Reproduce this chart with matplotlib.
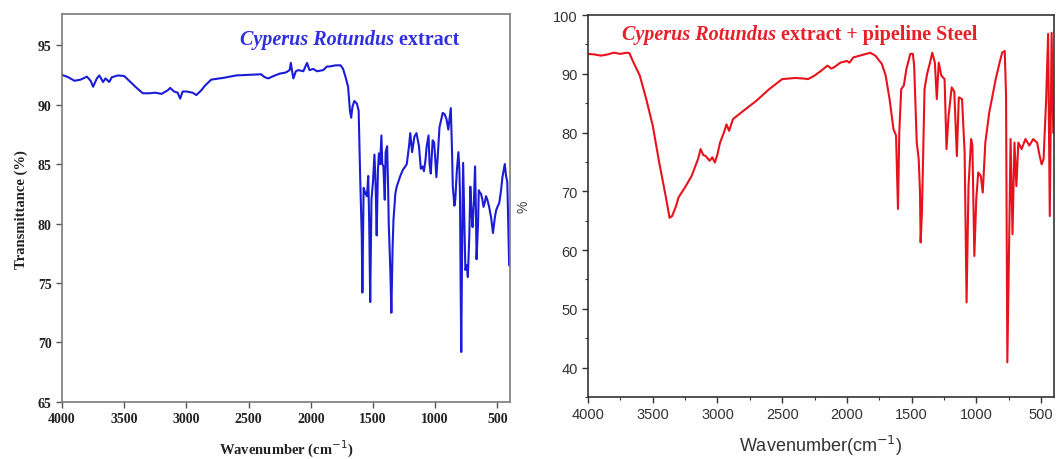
import numpy as np
import matplotlib
matplotlib.use('Agg')
import matplotlib.pyplot as plt
from matplotlib.ticker import MultipleLocator

# left panel: Cyperus Rotundus extract
w_left = [4000, 3950, 3900, 3850, 3800, 3770, 3750, 3720, 3700, 3670, 3650, 3620, 3600, 3550,
          3500, 3450, 3400, 3350, 3300, 3250, 3200, 3150, 3130, 3100, 3070, 3050, 3030, 3000,
          2950, 2920, 2880, 2850, 2800, 2700, 2600, 2500, 2400, 2370, 2340, 2300, 2250, 2200,
          2170, 2160, 2150, 2140, 2120, 2100, 2060, 2030, 2010, 1980, 1950, 1900, 1870, 1850,
          1800, 1760, 1740, 1720, 1700, 1685, 1675, 1665, 1650, 1630, 1615, 1603, 1590, 1585,
          1575, 1560, 1548, 1538, 1530, 1522, 1512, 1500, 1488, 1478, 1470, 1460, 1452, 1442,
          1432, 1425, 1416, 1405, 1398, 1386, 1378, 1373, 1360, 1352, 1342, 1335, 1320, 1309,
          1280, 1260, 1240, 1228, 1210, 1200, 1185, 1167, 1150, 1130, 1115, 1100, 1090, 1078,
          1068, 1053, 1045, 1035, 1025, 1020, 1008, 1002, 990, 980, 965, 950, 939, 925, 909,
          894, 884, 874, 864, 858, 845, 838, 825, 813, 805, 800, 795, 790, 783, 775, 765, 757,
          745, 737, 725, 717, 708, 699, 688, 679, 672, 667, 655, 649, 640, 631, 620, 611, 600,
          591, 580, 566, 550, 535, 520, 510, 495, 485, 470, 459, 450, 440, 430, 420, 412, 405]
t_left = [92.5, 92.3, 92.0, 92.1, 92.35, 92.0, 91.5, 92.2, 92.45, 91.9, 92.2, 91.9, 92.3, 92.45,
          92.4, 91.9, 91.4, 90.95, 90.95, 91.0, 90.9, 91.2, 91.4, 91.1, 91.0, 90.5, 91.1, 91.1,
          91.0, 90.8, 91.2, 91.6, 92.1, 92.25, 92.45, 92.5, 92.55, 92.3, 92.2, 92.4, 92.6, 92.7,
          92.9, 93.5, 92.8, 92.2, 92.8, 92.9, 92.8, 93.5, 92.9, 93.0, 92.8, 92.9, 93.2, 93.2,
          93.3, 93.3, 93.0, 92.3, 91.5, 89.5, 88.9, 89.8, 90.3, 90.1, 89.5, 84.0, 79.0, 74.2,
          83.0, 82.5, 82.3, 84.0, 80.0, 73.4, 82.0, 83.5, 85.8, 83.0, 79.0, 84.5, 85.9, 85.0,
          87.4, 85.0, 84.8, 82.0, 86.0, 86.5, 83.0, 80.0, 76.0, 72.5, 78.0, 80.3, 82.5, 83.1,
          84.0, 84.5, 84.8, 85.0, 86.5, 87.6, 86.0, 87.3, 87.6, 86.5, 84.6, 84.8, 84.4, 85.3,
          86.5, 87.4, 85.0, 84.2, 86.0, 87.0, 86.8, 85.9, 83.9, 85.5, 88.1, 88.8, 89.3, 89.2, 88.8,
          87.9, 88.8, 89.7, 86.0, 83.1, 81.5, 82.0, 84.5, 86.0, 84.5, 82.3, 75.0, 69.2, 78.0, 85.1,
          80.0, 76.1, 76.5, 75.5, 79.0, 83.1, 81.0, 79.7, 82.0, 84.8, 81.0, 77.0, 80.0, 82.8,
          82.6, 82.5, 82.0, 81.4, 81.8, 82.3, 82.0, 81.4, 80.5, 79.2, 80.5, 81.1, 81.5, 81.7,
          82.8, 83.9, 84.4, 85.0, 84.0, 83.5, 80.0, 76.5]

# right panel: extract + pipeline steel
w_right = [4000, 3950, 3900, 3850, 3800, 3750, 3700, 3680, 3650, 3600, 3550, 3500, 3450, 3400,
           3370, 3350, 3320, 3300, 3250, 3200, 3150, 3130, 3110, 3090, 3060, 3040, 3020, 3000,
           2980, 2950, 2930, 2910, 2880, 2800, 2700, 2600, 2500, 2400, 2330, 2300, 2250, 2200,
           2150, 2120, 2100, 2050, 2000, 1980, 1950, 1900, 1850, 1820, 1780, 1730, 1700, 1670,
           1640, 1620, 1605, 1595, 1580, 1560, 1540, 1510, 1490, 1480, 1460, 1445, 1435, 1430,
           1420, 1410, 1400, 1380, 1360, 1340, 1320, 1305, 1290, 1270, 1245, 1230, 1215, 1190,
           1170, 1150, 1135, 1110, 1090, 1075, 1060, 1040, 1030, 1015, 1000, 985, 965, 950, 930,
           900, 870, 850, 820, 800, 780, 770, 760, 745, 735, 720, 705, 690, 675, 650, 620, 590,
           560, 530, 510, 495, 480, 460, 445, 432, 418, 405]
t_right = [93.4, 93.3, 93.1, 93.3, 93.6, 93.4, 93.6, 93.5, 92.0, 89.7, 85.7, 81.2, 74.9, 69.2,
           65.5, 65.8, 67.5, 69.0, 70.7, 72.6, 75.5, 77.2, 76.2, 76.0, 75.2, 75.8, 74.9, 76.3,
           78.3, 80.0, 81.4, 80.3, 82.3, 83.7, 85.4, 87.4, 89.1, 89.3, 89.2, 89.1, 89.7, 90.5,
           91.4, 90.9, 91.1, 91.9, 92.2, 91.9, 92.8, 93.1, 93.4, 93.6, 93.1, 91.7, 89.7, 85.7,
           80.6, 79.5, 67.0, 80.0, 87.4, 88.0, 90.8, 93.4, 93.4, 91.4, 78.3, 75.5, 70.0, 61.3,
           66.4, 76.6, 87.4, 90.0, 91.7, 93.6, 91.9, 85.7, 91.9, 89.7, 89.1, 77.2, 82.6, 87.7,
           87.0, 76.0, 86.0, 85.7, 76.6, 51.1, 70.9, 78.9, 77.8, 59.0, 68.7, 73.2, 72.6, 69.8, 78.3,
           83.4, 86.8, 89.1, 91.9, 93.6, 93.9, 86.3, 40.9, 63.0, 78.9, 62.7, 78.3, 70.9, 78.3, 77.2,
           78.9, 77.8, 78.9, 78.3, 76.0, 74.6, 75.5, 85.7, 96.8, 65.8, 97.0, 80.0]

title_name = 'Cyperus Rotundus'
left_rest = ' extract'
right_rest = ' extract + pipeline Steel'

serif = ['Liberation Serif', 'DejaVu Serif']
sans = ['Liberation Sans', 'DejaVu Sans']

fig = plt.figure(figsize=(10.62, 4.6), dpi=100)

# ---- left
ax1 = fig.add_axes([0.0584, 0.124, 0.4216, 0.843])
ax1.plot(w_left, t_left, color='#1b1bd8', lw=1.5)
ax1.set_xlim(4000, 400)
ax1.set_ylim(65, 97.6)
ax1.set_xticks(np.arange(4000, 499, -500))
ax1.set_yticks(np.arange(65, 96, 5))
for s in ax1.spines.values():
    s.set_color('#7a7a7a')
    s.set_linewidth(1.2)
ax1.tick_params(direction='out', length=4, width=1, color='#555555', top=False, right=False)
for lab in ax1.get_xticklabels() + ax1.get_yticklabels():
    lab.set_family(serif)
    lab.set_fontweight('bold')
    lab.set_fontsize(10)
    lab.set_color('#222222')
ax1.set_xlabel('Wavenumber (cm$^{-1}$)', family=serif, fontweight='bold', fontsize=10.5,
               color='#222222', labelpad=9)
ax1.set_ylabel('Transmittance (%)', family=serif, fontweight='bold', fontsize=10.5,
               color='#222222', labelpad=7)
t1 = ax1.text(0.397, 0.936, title_name, transform=ax1.transAxes, family=serif,
              fontweight='bold', style='italic', fontsize=14.5, color='#2f2fe0', va='center')
ax1.annotate(left_rest, xy=(1, 0), xycoords=t1, va='bottom', ha='left', family=serif,
             fontweight='bold', fontsize=14.5, color='#2f2fe0')

# ---- right
ax2 = fig.add_axes([0.5537, 0.1348, 0.4387, 0.8302])
ax2.plot(w_right, t_right, color='#e8121c', lw=1.5)
ax2.set_xlim(4000, 400)
ax2.set_ylim(35, 100)
ax2.set_xticks(np.arange(4000, 499, -500))
ax2.set_yticks(np.arange(40, 101, 10))
ax2.xaxis.set_minor_locator(MultipleLocator(250))
ax2.yaxis.set_minor_locator(MultipleLocator(5))
for s in ax2.spines.values():
    s.set_color('#333333')
    s.set_linewidth(1.2)
ax2.tick_params(which='both', direction='out', color='#333333', top=False, right=False)
ax2.tick_params(which='major', length=4, width=1)
ax2.tick_params(which='minor', length=2.5, width=0.8)
for lab in ax2.get_xticklabels() + ax2.get_yticklabels():
    lab.set_family(sans)
    lab.set_fontsize(10.5)
    lab.set_color('#333333')
ax2.set_xlabel('Wavenumber(cm$^{-1}$)', family=sans, fontsize=13, color='#333333', labelpad=8)
ax2.set_ylabel('%', family=sans, fontsize=10, color='#444444', labelpad=16)
t2 = ax2.text(0.0736, 0.950, title_name, transform=ax2.transAxes, family=serif,
              fontweight='bold', style='italic', fontsize=14.5, color='#e8202a', va='center')
ax2.annotate(right_rest, xy=(1, 0), xycoords=t2, va='bottom', ha='left', family=serif,
             fontweight='bold', fontsize=14.5, color='#e8202a')

fig.savefig('out.png', dpi=100)
